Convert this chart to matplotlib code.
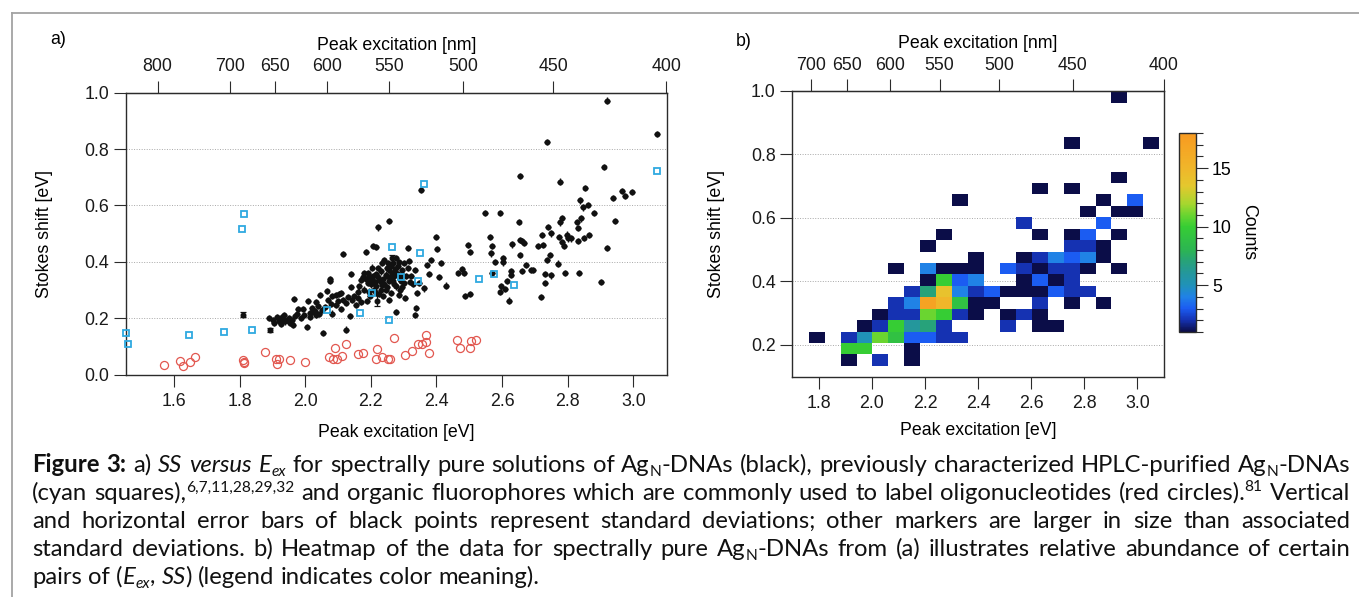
import numpy as np
import matplotlib
matplotlib.use("Agg")
import matplotlib.pyplot as plt
from matplotlib.colors import LinearSegmentedColormap
from matplotlib.lines import Line2D
from matplotlib.ticker import MultipleLocator, FormatStrFormatter

# ---------------- data ----------------
# spectrally pure Ag_N-DNAs (black)
black_ex = [1.889, 1.903, 1.913, 1.919, 1.928, 1.936, 1.946, 1.953, 1.961, 1.968, 1.978, 1.993,
            1.986, 1.996, 2.006, 2.014, 2.022, 2.032, 1.926, 1.939, 1.962, 1.967, 2.009,
            2.353, 2.255, 2.222, 2.207, 2.217, 2.114, 2.398, 2.402, 2.314, 2.185, 2.495, 2.502,
            2.477, 2.467, 2.485, 2.487, 2.503, 2.371, 2.384, 2.413, 2.408, 2.428, 2.376, 2.361,
            2.339, 2.336, 2.139, 2.139, 2.075, 2.075, 2.045, 2.065, 2.083, 2.093, 2.102, 2.114,
            2.124, 2.144, 2.154, 2.162, 2.170, 2.124, 2.137, 2.053, 2.032, 2.022, 2.093, 2.041,
            2.083, 2.109,
            2.185, 2.190, 2.195, 2.175, 2.207, 2.217, 2.230, 2.225, 2.215, 2.230, 2.241, 2.250,
            2.256, 2.269, 2.278, 2.284, 2.274, 2.266, 2.278, 2.286, 2.296, 2.307, 2.312, 2.322,
            2.329, 2.305, 2.276, 2.251, 2.241, 2.223, 2.200, 2.180, 2.198, 2.187, 2.164, 2.246,
            2.261, 2.291, 2.256, 2.236, 2.210, 2.296, 2.317, 2.335, 2.347, 2.342, 2.230, 2.271,
            2.282, 2.254,
            2.200, 2.205, 2.212, 2.222, 2.235, 2.238, 2.190, 2.245, 2.260, 2.265, 2.275, 2.288,
            2.295, 2.262, 2.250, 2.285, 2.300, 2.270, 2.290, 2.250, 2.215, 2.195, 2.225, 2.300,
            2.318, 2.235, 2.205, 2.180, 2.170, 2.160, 2.150, 2.100, 2.080, 2.060, 2.050, 2.030,
            2.040, 2.070, 2.110, 2.130, 2.015, 1.950, 1.975, 1.905, 1.932,
            2.920, 3.073, 2.736, 2.909, 2.655, 2.775, 2.854, 2.939, 2.966, 2.974, 2.995, 2.838,
            2.846, 2.863, 2.879, 2.945, 2.548, 2.595, 2.650, 2.782, 2.777, 2.827, 2.840, 2.832,
            2.740, 2.750, 2.722, 2.772, 2.797, 2.810, 2.801, 2.782, 2.789, 2.848, 2.865, 2.831,
            2.708, 2.726, 2.920, 2.562, 2.569, 2.565, 2.630, 2.655, 2.662, 2.667, 2.653, 2.603,
            2.602, 2.745, 2.736, 2.578, 2.673, 2.771, 2.661, 2.688, 2.694, 2.627, 2.628, 2.568,
            2.731, 2.750, 2.791, 2.835, 2.902, 2.615, 2.597, 2.608, 2.595, 2.731, 2.621, 2.718]
black_ss = [0.200, 0.195, 0.205, 0.189, 0.205, 0.213, 0.193, 0.183, 0.195, 0.207, 0.233, 0.234,
            0.201, 0.213, 0.168, 0.220, 0.221, 0.213, 0.180, 0.189, 0.178, 0.269, 0.262,
            0.656, 0.545, 0.522, 0.457, 0.453, 0.428, 0.488, 0.446, 0.448, 0.434, 0.459, 0.436,
            0.376, 0.361, 0.361, 0.280, 0.285, 0.390, 0.408, 0.396, 0.346, 0.316, 0.357, 0.306,
            0.237, 0.211, 0.358, 0.310, 0.339, 0.331, 0.283, 0.296, 0.278, 0.283, 0.286, 0.264,
            0.254, 0.266, 0.247, 0.271, 0.259, 0.160, 0.209, 0.148, 0.257, 0.237, 0.248, 0.215,
            0.217, 0.233,
            0.339, 0.361, 0.349, 0.346, 0.351, 0.358, 0.366, 0.337, 0.313, 0.302, 0.322, 0.349,
            0.372, 0.396, 0.414, 0.384, 0.363, 0.331, 0.313, 0.284, 0.311, 0.349, 0.378, 0.349,
            0.323, 0.272, 0.222, 0.396, 0.408, 0.378, 0.331, 0.302, 0.278, 0.260, 0.313, 0.302,
            0.290, 0.331, 0.266, 0.278, 0.302, 0.372, 0.402, 0.372, 0.325, 0.290, 0.328, 0.349,
            0.358, 0.331,
            0.320, 0.340, 0.328, 0.345, 0.318, 0.340, 0.325, 0.355, 0.345, 0.360, 0.375, 0.340,
            0.355, 0.385, 0.380, 0.400, 0.395, 0.320, 0.300, 0.310, 0.290, 0.295, 0.285, 0.325,
            0.330, 0.395, 0.380, 0.360, 0.335, 0.295, 0.280, 0.262, 0.250, 0.240, 0.230, 0.225,
            0.245, 0.265, 0.290, 0.275, 0.205, 0.200, 0.215, 0.185, 0.195,
            0.972, 0.854, 0.824, 0.737, 0.705, 0.685, 0.661, 0.626, 0.651, 0.634, 0.648, 0.618,
            0.593, 0.601, 0.574, 0.545, 0.574, 0.572, 0.541, 0.555, 0.540, 0.542, 0.554, 0.520,
            0.524, 0.501, 0.494, 0.487, 0.497, 0.483, 0.483, 0.469, 0.458, 0.484, 0.496, 0.473,
            0.455, 0.460, 0.450, 0.488, 0.455, 0.430, 0.462, 0.479, 0.473, 0.467, 0.425, 0.414,
            0.398, 0.425, 0.408, 0.401, 0.390, 0.394, 0.369, 0.370, 0.370, 0.366, 0.355, 0.360,
            0.357, 0.352, 0.360, 0.360, 0.330, 0.331, 0.313, 0.304, 0.294, 0.324, 0.263, 0.276]
# black points with clearly visible (capped) error bars
capped_ex = [1.810, 1.893, 2.220, 2.265]
capped_ss = [0.213, 0.157, 0.263, 0.413]
capped_err = [0.008, 0.007, 0.020, 0.012]

# HPLC-purified Ag_N-DNAs (cyan squares)
cyan_ex = [1.453, 1.461, 1.645, 1.754, 1.837, 1.807, 1.812, 2.065, 2.166, 2.203, 2.254, 2.263,
           2.293, 2.345, 2.351, 2.362, 2.529, 2.574, 2.636, 3.073]
cyan_ss = [0.149, 0.108, 0.140, 0.151, 0.160, 0.517, 0.570, 0.228, 0.219, 0.291, 0.194, 0.453,
           0.346, 0.333, 0.430, 0.677, 0.338, 0.358, 0.318, 0.724]

# organic fluorophores (red circles)
red_ex = [1.569, 1.618, 1.627, 1.649, 1.663, 1.810, 1.812, 1.814, 1.877, 1.910, 1.921, 1.913,
          1.953, 2.000, 2.091, 2.124, 2.073, 2.084, 2.096, 2.111, 2.160, 2.177, 2.219, 2.215,
          2.235, 2.253, 2.259, 2.272, 2.305, 2.324, 2.345, 2.357, 2.369, 2.368, 2.377, 2.461,
          2.471, 2.502, 2.506, 2.520]
red_ss = [0.034, 0.048, 0.030, 0.045, 0.062, 0.051, 0.046, 0.043, 0.079, 0.056, 0.057, 0.037,
          0.052, 0.046, 0.096, 0.110, 0.063, 0.056, 0.056, 0.068, 0.072, 0.076, 0.090, 0.057,
          0.062, 0.056, 0.056, 0.129, 0.070, 0.083, 0.109, 0.110, 0.115, 0.140, 0.076, 0.123,
          0.094, 0.096, 0.119, 0.122]

# heatmap: bin grid (eV) and counts per occupied cell (column index, row index, count)
heat_x0, heat_dx, heat_ncol = 1.762, 0.06, 22
heat_y0, heat_dy, heat_nrow = 0.134, 0.036, 24
heat_col = [19, 16, 21, 19, 14, 16, 9, 18, 20, 17, 19, 20, 13, 18,
            8, 14, 16, 17, 19, 7, 16, 17, 18,
            10, 13, 14, 15, 16, 17, 18,
            5, 7, 8, 9, 10, 12, 13, 14, 15, 16, 17, 19,
            7, 8, 9, 10, 13, 14, 15, 16,
            6, 7, 8, 9, 10, 11, 12, 13, 14, 15, 16, 17,
            5, 6, 7, 8, 9, 10, 11, 14, 16, 18,
            4, 5, 6, 7, 8, 9, 10, 12, 13, 14,
            3, 4, 5, 6, 7, 8, 12, 14, 15,
            0, 2, 3, 4, 5, 6, 7, 8, 9,
            2, 3, 6,
            2, 4, 6]
heat_row = [23, 19, 19, 16, 15, 15, 14, 14, 14, 13, 13, 13, 12, 12,
            11, 11, 11, 11, 11, 10, 10, 10, 10,
            9, 9, 9, 9, 9, 9, 9,
            8, 8, 8, 8, 8, 8, 8, 8, 8, 8, 8, 8,
            7, 7, 7, 7, 7, 7, 7, 7,
            6, 6, 6, 6, 6, 6, 6, 6, 6, 6, 6, 6,
            5, 5, 5, 5, 5, 5, 5, 5, 5, 5,
            4, 4, 4, 4, 4, 4, 4, 4, 4, 4,
            3, 3, 3, 3, 3, 3, 3, 3, 3,
            2, 2, 2, 2, 2, 2, 2, 2, 2,
            1, 1, 1,
            0, 0, 0]
heat_count = [1, 1, 1, 1, 1, 1, 1, 1, 3, 1, 1, 1, 2, 3,
              1, 1, 1, 3, 1, 1, 2, 2, 1,
              1, 1, 2, 4, 3, 4, 1,
              1, 4, 1, 1, 1, 3, 2, 1, 2, 2, 1, 1,
              1, 10, 3, 4, 1, 3, 1, 2,
              2, 7, 14, 4, 2, 3, 1, 1, 1, 3, 2, 2,
              2, 4, 17, 15, 9, 1, 1, 2, 1, 1,
              1, 2, 2, 11, 10, 2, 1, 1, 2, 1,
              1, 2, 10, 6, 7, 2, 2, 1, 1,
              1, 2, 5, 11, 9, 3, 3, 2, 2,
              10, 10, 1,
              1, 2, 1]

nm_ticks_a = [800, 700, 650, 600, 550, 500, 450, 400]
nm_ticks_b = [700, 650, 600, 550, 500, 450, 400]
ev_ticks_a = [1.6, 1.8, 2.0, 2.2, 2.4, 2.6, 2.8, 3.0]
ev_ticks_b = [1.8, 2.0, 2.2, 2.4, 2.6, 2.8, 3.0]
ss_ticks_a = [0.0, 0.2, 0.4, 0.6, 0.8, 1.0]
ss_ticks_b = [0.2, 0.4, 0.6, 0.8, 1.0]
cbar_ticks = [5, 10, 15]

# ---------------- figure ----------------
W, H = 1359, 597
FONT = "Liberation Sans"
CAP_FONT = "Lato"
FS = 12.8
plt.rcParams["font.family"] = [FONT, "DejaVu Sans"]
fig = plt.figure(figsize=(W / 100, H / 100), dpi=100)


def px_axes(l, t, r, b):
    return fig.add_axes([l / W, 1 - b / H, (r - l) / W, (b - t) / H])


SPINE = "#2b2b2b"


def style_axes(ax):
    for s in ax.spines.values():
        s.set_color(SPINE)
        s.set_linewidth(1.0)
    ax.tick_params(axis="both", direction="out", length=8.5, width=0.8, color=SPINE,
                   labelsize=FS, labelcolor="#1a1a1a")
    ax.tick_params(axis="x", pad=4.5)
    ax.tick_params(axis="y", pad=3.5)
    ax.set_axisbelow(True)
    ax.grid(axis="y", linestyle=(0, (1, 1.6)), color="#a8a8a8", linewidth=0.7)


def top_axis(ax, nm_ticks):
    sec = ax.secondary_xaxis("top")
    sec.set_xticks([1240.0 / n for n in nm_ticks], labels=[str(n) for n in nm_ticks])
    sec.tick_params(direction="out", length=8.5, width=0.8, color=SPINE, labelsize=FS,
                    pad=4.0, labelcolor="#1a1a1a")
    sec.spines["top"].set_color(SPINE)
    sec.set_xlabel("Peak excitation [nm]", fontsize=FS, labelpad=6)
    return sec


# ----- panel a -----
axA = px_axes(125.7, 92.7, 666.7, 374.7)
style_axes(axA)
axA.set_xlim(1.453, 3.1015)
axA.set_ylim(0, 1.0)
axA.set_xticks(ev_ticks_a)
axA.set_yticks(ss_ticks_a)
axA.xaxis.set_major_formatter(FormatStrFormatter("%.1f"))
axA.yaxis.set_major_formatter(FormatStrFormatter("%.1f"))

axA.errorbar(black_ex, black_ss, xerr=0.009, yerr=0.011, fmt="o", ms=3.3, color="#111111",
             mec="#111111", elinewidth=1.0, capsize=0, zorder=3)
axA.errorbar(capped_ex, capped_ss, yerr=capped_err, fmt="o", ms=3.3, color="#111111",
             elinewidth=0.9, capsize=2, capthick=0.9, zorder=3)
axA.plot(red_ex, red_ss, linestyle="none", marker="o", ms=5.8, mfc="none", mec="#e2574f",
         mew=0.9, zorder=4)
axA.plot(cyan_ex, cyan_ss, linestyle="none", marker="s", ms=5.0, mfc="none", mec="#2fa9e0",
         mew=1.3, zorder=5, clip_on=False)

axA.set_xlabel("Peak excitation [eV]", fontsize=FS)
axA.xaxis.set_label_coords(0.5, -0.205)
axA.xaxis.label.set_va("center")
axA.set_ylabel("Stokes shift [eV]", fontsize=FS)
axA.yaxis.set_label_coords(-0.15, 0.5)
axA.yaxis.label.set_va("center")
top_axis(axA, nm_ticks_a)
fig.text(58 / W, 1 - 40 / H, "a)", fontsize=FS, ha="center", va="center")

# ----- panel b -----
axB = px_axes(792.3, 91, 1164, 376.7)
style_axes(axB)
axB.set_xlim(1.70, 3.10)
axB.set_ylim(0.10, 1.0)
axB.set_xticks(ev_ticks_b)
axB.set_yticks(ss_ticks_b)
axB.xaxis.set_major_formatter(FormatStrFormatter("%.1f"))
axB.yaxis.set_major_formatter(FormatStrFormatter("%.1f"))

cmap = LinearSegmentedColormap.from_list("counts", [
    (0.000, "#0b0d48"), (0.059, "#1532b2"), (0.118, "#1b5cf2"), (0.176, "#2082e6"),
    (0.235, "#2092b8"), (0.294, "#24979c"), (0.353, "#27a27a"), (0.412, "#2cb552"),
    (0.529, "#36cd34"), (0.588, "#6ad530"), (0.647, "#a8d62f"), (0.735, "#e4c82e"),
    (0.824, "#f0b62a"), (1.000, "#f89a20")])

grid = np.zeros((heat_nrow, heat_ncol))
for c, r, n in zip(heat_col, heat_row, heat_count):
    grid[r, c] = n
xe = heat_x0 + heat_dx * np.arange(heat_ncol + 1)
ye = heat_y0 + heat_dy * np.arange(heat_nrow + 1)
mesh = axB.pcolormesh(xe, ye, np.ma.masked_equal(grid, 0), cmap=cmap, vmin=1, vmax=18,
                      zorder=2)

axB.set_xlabel("Peak excitation [eV]", fontsize=FS)
axB.xaxis.set_label_coords(0.5, -0.19)
axB.xaxis.label.set_va("center")
axB.set_ylabel("Stokes shift [eV]", fontsize=FS)
axB.yaxis.set_label_coords(-0.203, 0.5)
axB.yaxis.label.set_va("center")
top_axis(axB, nm_ticks_b)
fig.text(744 / W, 1 - 42 / H, "b)", fontsize=FS, ha="center", va="center")

cax = px_axes(1179, 133, 1196, 332)
cb = fig.colorbar(mesh, cax=cax)
cb.set_ticks(cbar_ticks)
cax.yaxis.set_minor_locator(MultipleLocator(1))
cax.tick_params(which="major", direction="out", length=8.5, width=0.8, color=SPINE,
                labelsize=FS, pad=3)
cax.tick_params(which="minor", direction="out", length=5, width=0.8, color=SPINE)
cb.outline.set_edgecolor(SPINE)
cb.outline.set_linewidth(1.0)
cb.set_label("Counts", fontsize=FS, rotation=270, va="center")
cax.yaxis.set_label_coords(4.1, 0.5)

# ----- frame lines -----
fig.add_artist(Line2D([11.5 / W, 1.0], [1 - 13.3 / H, 1 - 13.3 / H], transform=fig.transFigure,
                      color="#a3a3a3", lw=1.3))
fig.add_artist(Line2D([11.5 / W, 11.5 / W], [1 - 13.3 / H, 0.0], transform=fig.transFigure,
                      color="#a3a3a3", lw=1.3))

# ----- caption (justified, mixed styles) -----
caption = [
    [("Figure 3:", "b"), (" a) ", "n"), ("SS versus E", "i"), ("ex", "isub"),
     (" for spectrally pure solutions of Ag", "n"), ("N", "sub"),
     ("-DNAs (black), previously characterized HPLC-purified Ag", "n"), ("N", "sub"),
     ("-DNAs", "n")],
    [("(cyan squares),", "n"), ("6,7,11,28,29,32", "sup"),
     (" and organic fluorophores which are commonly used to label oligonucleotides (red circles).",
      "n"), ("81", "sup"), (" Vertical", "n")],
    [("and horizontal error bars of black points represent standard deviations; other markers "
      "are larger in size than associated", "n")],
    [("standard deviations. b) Heatmap of the data for spectrally pure Ag", "n"), ("N", "sub"),
     ("-DNAs from (a) illustrates relative abundance of certain", "n")],
    [("pairs of (", "n"), ("E", "i"), ("ex", "isub"), (", ", "n"), ("SS", "i"),
     (") (legend indicates color meaning).", "n")],
]
cap_base = [472, 500, 528, 556, 584]
cap_x0, cap_x1 = 32, 1350
justify = [True, True, True, True, False]

renderer = fig.canvas.get_renderer()


def props(st, size):
    d = dict(fontsize=size, family=[CAP_FONT, "DejaVu Sans"], color="#111111")
    dy = 0.0
    if st == "b":
        d["weight"] = "bold"
    if st in ("i", "isub"):
        d["style"] = "italic"
    if st in ("sub", "isub"):
        d["fontsize"] = size * 0.65
        dy = -0.18 * size * 100 / 72
    if st == "sup":
        d["fontsize"] = size * 0.65
        dy = 0.36 * size * 100 / 72
    return d, dy


def measure(txt, st, size):
    d, _ = props(st, size)
    t = fig.text(0, 0, txt, **d)
    w = t.get_window_extent(renderer).width
    t.remove()
    return w


def to_words(pieces):
    words = [[]]
    for txt, st in pieces:
        parts = txt.split(" ")
        for k, p in enumerate(parts):
            if k > 0:
                words.append([])
            if p:
                words[-1].append((p, st))
    return [w for w in words if w]


def word_widths(words, size):
    return [[measure(p, s, size) for p, s in w] for w in words]


cap_words = [to_words(l) for l in caption]
s0 = 15.0
space0 = measure("n n", "n", s0) - measure("nn", "n", s0)
nat = []
for wds in cap_words[:2]:
    ww = word_widths(wds, s0)
    nat.append(sum(sum(x) for x in ww) + space0 * (len(wds) - 1))
size = s0 * (cap_x1 - cap_x0) / max(nat) * 0.995
space = measure("n n", "n", size) - measure("nn", "n", size)

for wds, yb, just in zip(cap_words, cap_base, justify):
    ww = word_widths(wds, size)
    total = sum(sum(x) for x in ww)
    gap = (cap_x1 - cap_x0 - total) / (len(wds) - 1) if just else space
    x = cap_x0
    for w, wl in zip(wds, ww):
        xx = x
        for (p, st), pw in zip(w, wl):
            d, dy = props(st, size)
            fig.text(xx / W, 1 - (yb - dy) / H, p, va="baseline", ha="left", **d)
            xx += pw
        x += sum(wl) + gap

fig.savefig("out.png", dpi=100)
